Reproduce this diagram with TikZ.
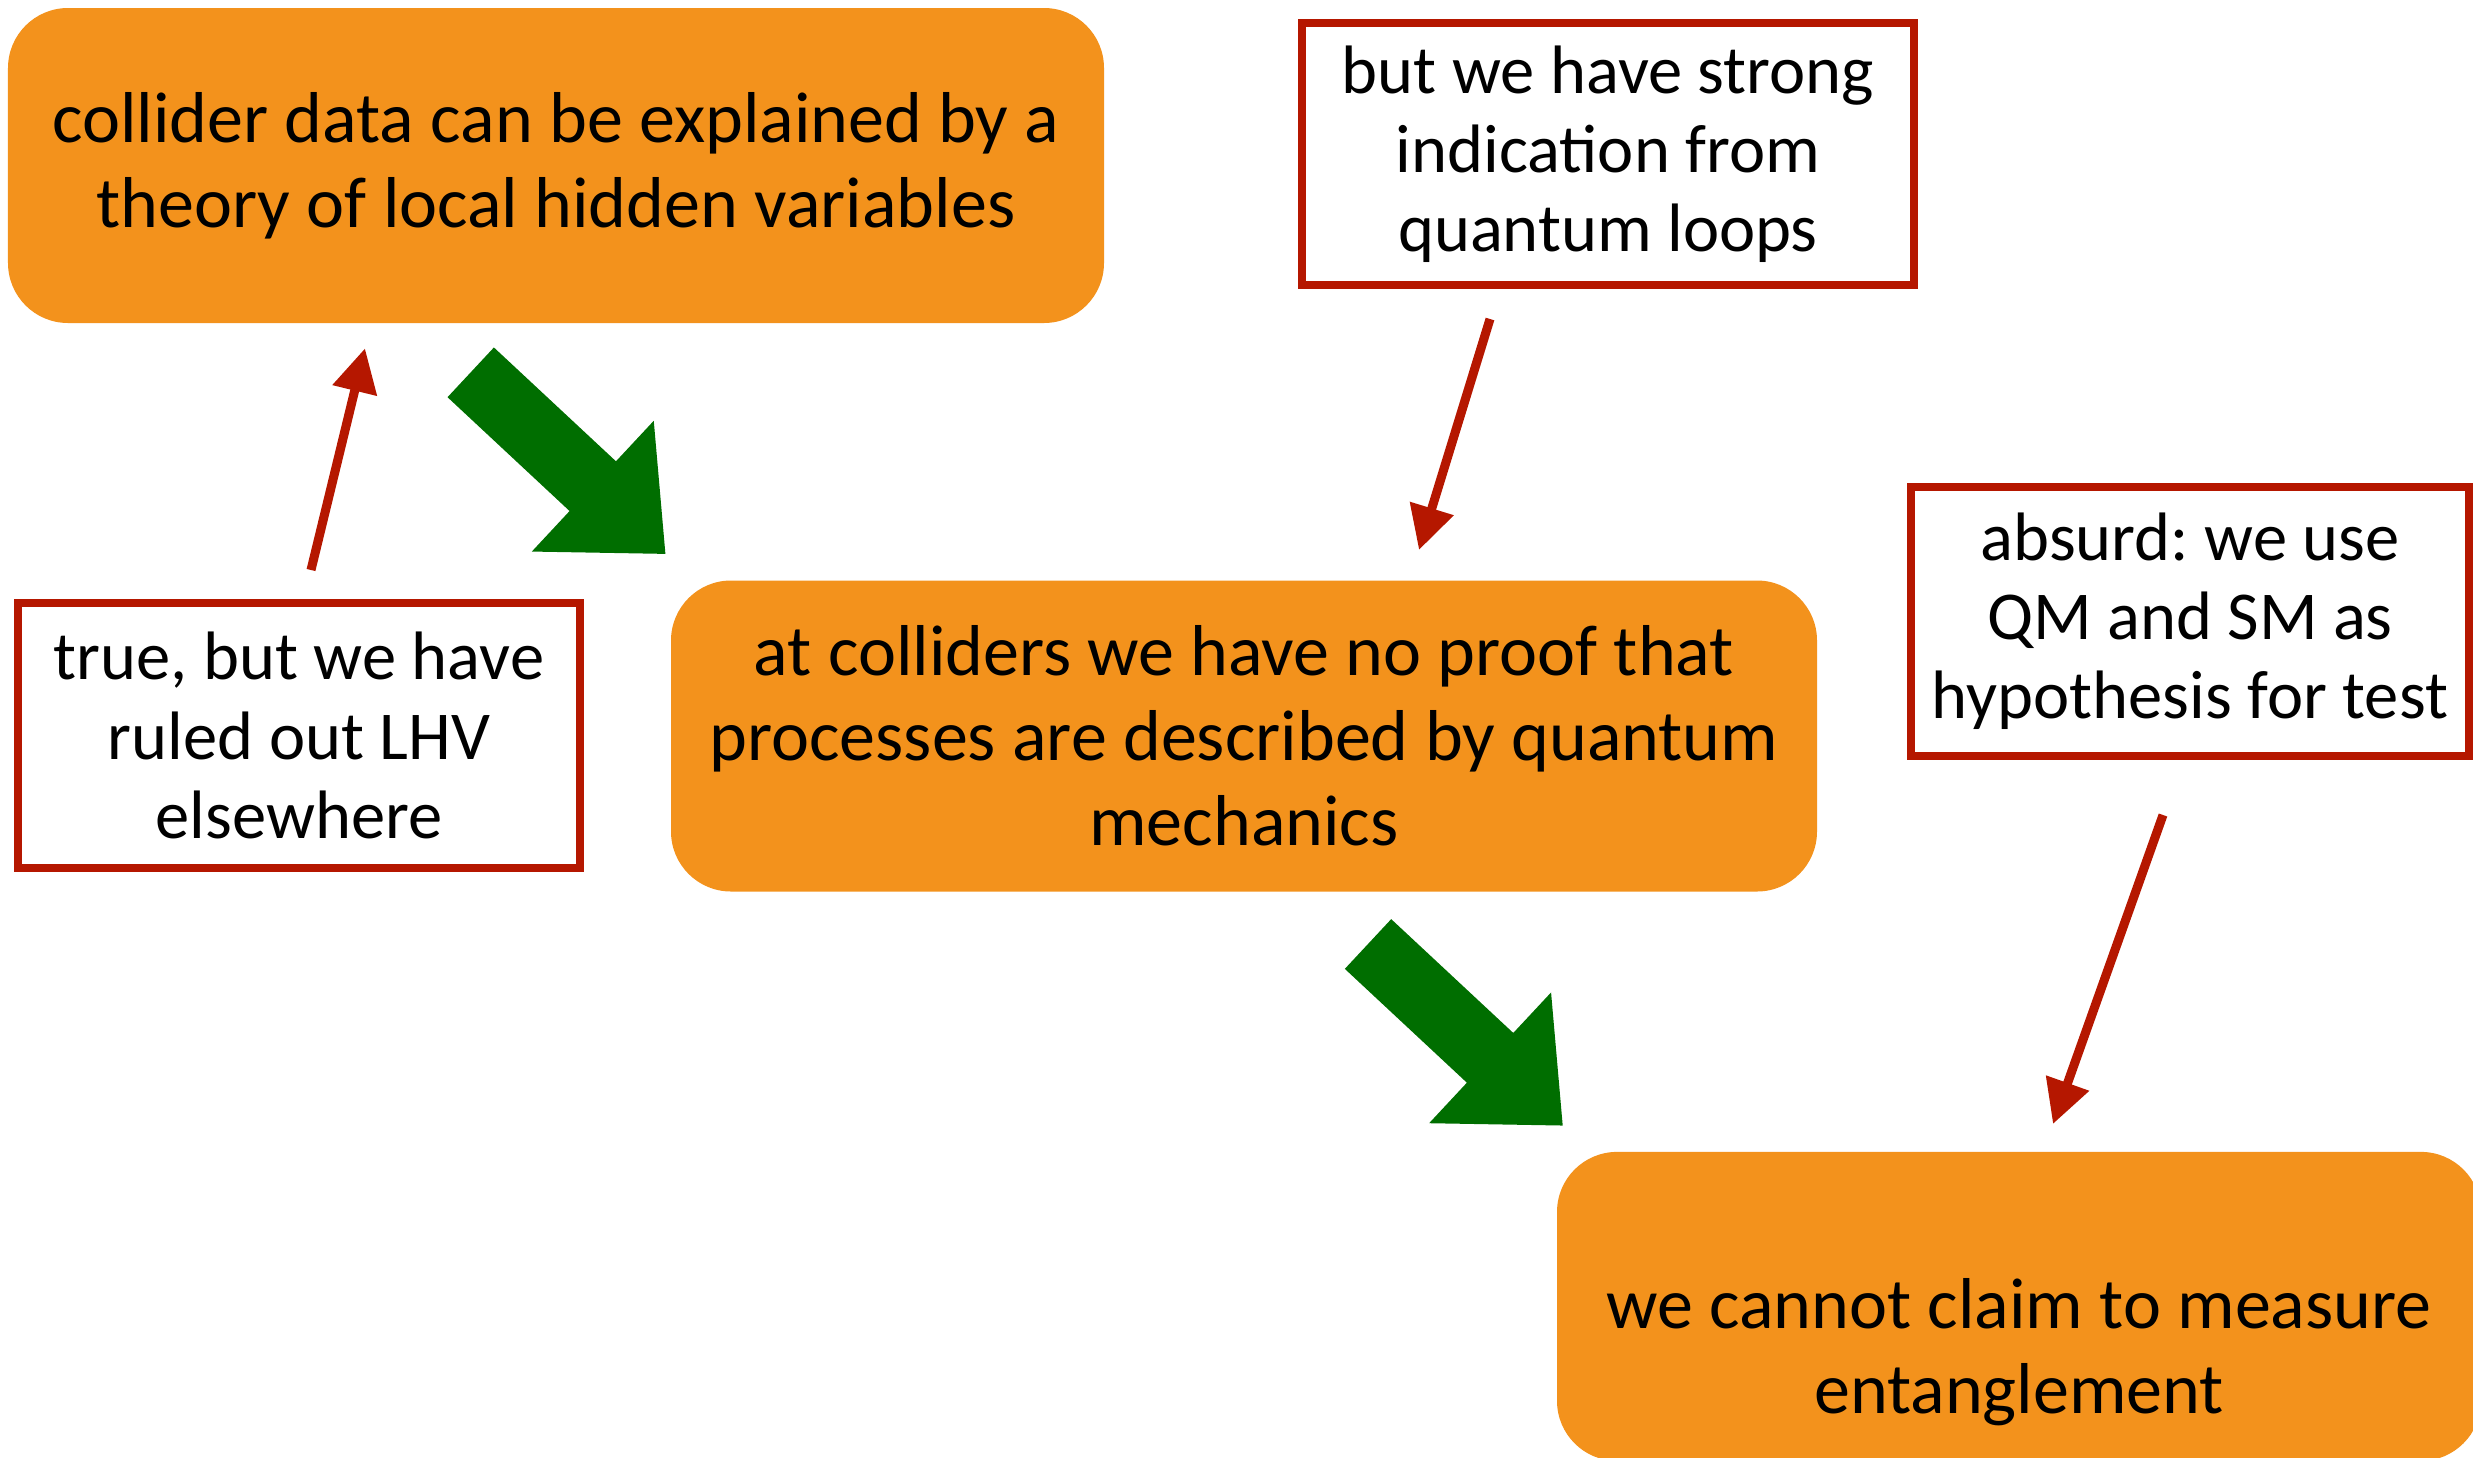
\documentclass[tikz,border=0pt]{standalone}
\usepackage{fontspec}
\setmainfont{Carlito}
\usetikzlibrary{arrows.meta,shapes.arrows}
\definecolor{claimorange}{RGB}{243,146,28}
\definecolor{notered}{RGB}{181,23,0}
\definecolor{flowgreen}{RGB}{0,110,0}
\frenchspacing

\begin{document}
\begin{tikzpicture}[
    claimbox/.style={fill=claimorange, rounded corners=0.6cm, align=center, inner sep=0pt,
      font=\fontsize{20.5}{24.2}\selectfont},
    notebox/.style={draw=notered, line width=0.08cm, align=center, inner sep=0pt,
      font=\fontsize{19.5}{22.5}\selectfont},
    flowarrow/.style={single arrow, fill=flowgreen, inner xsep=0pt, inner ysep=0.333cm,
      single arrow head extend=0.554cm, single arrow tip angle=84,
      minimum height=2.662cm, anchor=tail, rotate=-43},
    notearrow/.style={draw=notered, line width=0.09cm,
      -{Triangle[length=0.435cm, width=0.436cm]}}]
  \useasboundingbox (0,0) rectangle (24.73,-14.57);

  % the three claims
  \node[claimbox, minimum width=10.96cm, minimum height=3.15cm] (lhv) at (5.56,-1.655)
    {collider data can be explained by a\\theory of local hidden variables};
  \node[claimbox, minimum width=11.46cm, minimum height=3.11cm] (noproof) at (12.44,-7.36)
    {at colliders we have no proof that\\processes are described by quantum\\mechanics};
  \node[claimbox, minimum width=9.24cm, minimum height=3.09cm,
        text height=2.4cm, text depth=0.26cm] (verdict) at (20.19,-13.064)
    {we cannot claim to measure\\entanglement};

  % the objections
  \node[notebox, minimum width=6.12cm, minimum height=2.62cm] (loops) at (16.08,-1.54)
    {but we have strong\\indication from\\quantum loops};
  \node[notebox, minimum width=5.62cm, minimum height=2.65cm] (ruledout) at (2.99,-7.355)
    {true, but we have\\ruled out LHV\\elsewhere};
  \node[notebox, minimum width=5.58cm, minimum height=2.69cm] (absurd) at (21.90,-6.215)
    {absurd: we use\\QM and SM as\\hypothesis for test};

  % big green steps
  \node[flowarrow] (imply1) at (4.702,-3.7185) {};
  \node[flowarrow] (imply2) at (13.675,-9.435) {};

  % red pointers
  \coordinate (ruledout-from) at (3.11,-5.70);
  \coordinate (ruledout-to) at (3.65,-3.483);
  \coordinate (loops-from) at (14.90,-3.19);
  \coordinate (loops-to) at (14.19,-5.50);
  \coordinate (absurd-from) at (21.63,-8.15);
  \coordinate (absurd-to) at (20.53,-11.24);
  \draw[notearrow] (ruledout-from) -- (ruledout-to);
  \draw[notearrow] (loops-from) -- (loops-to);
  \draw[notearrow] (absurd-from) -- (absurd-to);
\end{tikzpicture}
\end{document}
